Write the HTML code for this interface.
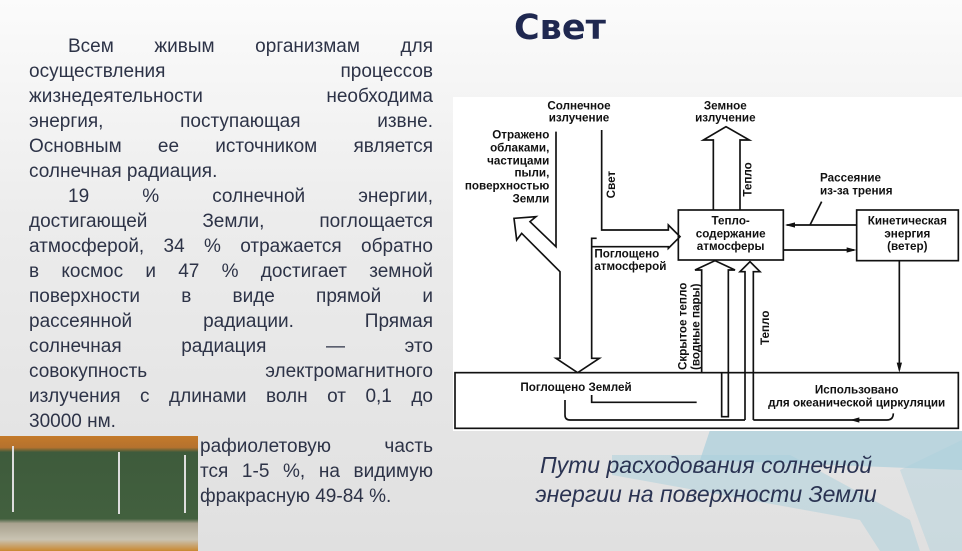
<!DOCTYPE html>
<html><head><meta charset="utf-8"><style>
body{margin:0;width:962px;height:551px;overflow:hidden;position:relative;background:linear-gradient(180deg,#fbfbfb 0%,#ececec 40%,#e0e0e0 100%);font-family:"Liberation Sans",sans-serif}
.l{position:absolute;left:29px;width:404px;font-size:19px;color:#2d3347;text-align:justify;text-align-last:justify;white-space:nowrap;height:24px;line-height:24px}
.n{text-align-last:left}
.t{font-family:"Liberation Sans",sans-serif;font-weight:bold;font-size:35px;fill:#111}
</style></head><body>
<svg style="position:absolute;left:0;top:0" width="962" height="551">
<polygon points="710,430 962,430 962,470 700,460" fill="#a9cfdc" opacity="0.7"/>
<polygon points="612,455 790,455 910,520 920,551 880,551 860,520 612,475" fill="#a9cfdc" opacity="0.5"/>
<polygon points="900,470 962,440 962,551 930,551" fill="#a9cfdc" opacity="0.4"/>
</svg>
<div style="position:absolute;left:514px;top:8px;font-family:'DejaVu Sans',sans-serif;font-weight:bold;font-size:35px;color:#1f2850">Свет</div>

<div class="l" style="top:35px;left:68px;width:365px">Всем живым организмам для</div>
<div class="l" style="top:60px">осуществления процессов</div>
<div class="l" style="top:85px">жизнедеятельности необходима</div>
<div class="l" style="top:110px">энергия, поступающая извне.</div>
<div class="l" style="top:135px">Основным ее источником является</div>
<div class="l n" style="top:160px">солнечная радиация.</div>
<div class="l" style="top:185px;left:68px;width:365px">19 % солнечной энергии,</div>
<div class="l" style="top:210px">достигающей Земли, поглощается</div>
<div class="l" style="top:235px">атмосферой, 34 % отражается обратно</div>
<div class="l" style="top:260px">в космос и 47 % достигает земной</div>
<div class="l" style="top:285px">поверхности в виде прямой и</div>
<div class="l" style="top:310px">рассеянной радиации. Прямая</div>
<div class="l" style="top:335px">солнечная радиация — это</div>
<div class="l" style="top:360px">совокупность электромагнитного</div>
<div class="l" style="top:385px">излучения с длинами волн от 0,1 до</div>
<div class="l n" style="top:410px">30000 нм.</div>
<div class="l" style="top:435px;left:200px;width:233px">рафиолетовую часть</div>
<div class="l" style="top:460px;left:200px;width:233px">тся 1-5 %, на видимую</div>
<div class="l n" style="top:485px;left:200px;width:233px">фракрасную 49-84 %.</div>

<div style="position:absolute;left:0;top:436px;width:198px;height:115px;background:linear-gradient(180deg,#c47a2a 0%,#b5722e 10%,#3e5b3c 14%,#42603e 72%,#a9a28f 76%,#c9c3b2 90%,#c98830 100%)"></div>
<div style="position:absolute;left:12px;top:446px;width:2px;height:66px;background:#ddd"></div>
<div style="position:absolute;left:118px;top:452px;width:2px;height:62px;background:#ddd"></div>
<div style="position:absolute;left:184px;top:455px;width:2px;height:58px;background:#ddd"></div>

<div style="position:absolute;left:453px;top:97px;width:509px;height:334px;background:#fff"></div>
<svg style="position:absolute;left:450px;top:90px" width="510" height="340" viewBox="0 0 1530 1020">
<g fill="none" stroke="#111" stroke-width="5">
<rect x="15" y="848" width="1510" height="167"/>
<rect x="685" y="360" width="315" height="150"/>
<rect x="1220" y="360" width="305" height="152"/>
<polyline points="318,125 318,470 240,395 258,380 192,385 200,450 215,430 330,545 330,805 318,805 383,848 448,805 425,805 425,445 440,445"/>
<polyline points="455,120 455,420 655,420 655,405 690,440 655,475 655,470 425,470"/>
<polyline points="790,360 790,150 760,150 828,110 898,150 870,150 870,360"/>
<polyline points="755,848 755,540 735,540 795,512 855,540 835,540 835,980 815,980 815,848"/>
<polyline points="885,990 885,545 870,545 900,515 930,545 910,545 910,990"/>
<line x1="1220" y1="405" x2="1010" y2="405"/>
<line x1="1000" y1="480" x2="1212" y2="480"/>
<line x1="1080" y1="405" x2="1115" y2="335"/>
<line x1="1348" y1="512" x2="1348" y2="840"/>
<path d="M345,930 L345,975 Q345,990 360,990 L885,990"/>
<polyline points="425,915 425,937 740,937"/>
<path d="M1330,970 Q1330,990 1310,990 L910,990"/>
</g>
<g fill="#111">
<polygon points="1005,405 1035,397 1035,413"/>
<polygon points="1220,480 1190,472 1190,488"/>
<polygon points="1348,848 1340,818 1356,818"/>
<polygon points="1200,990 1228,982 1228,998"/>
</g>
<g class="t" text-anchor="middle">
<text x="387" y="58">Солнечное</text><text x="387" y="95">излучение</text>
<text x="826" y="58">Земное</text><text x="826" y="95">излучение</text>
<text x="842" y="403">Тепло-</text><text x="842" y="442">содержание</text><text x="842" y="480">атмосферы</text>
<text x="1372" y="403">Кинетическая</text><text x="1372" y="442">энергия</text><text x="1372" y="480">(ветер)</text>
<text x="378" y="903">Поглощено Землей</text>
<text x="1220" y="910">Использовано</text><text x="1220" y="950">для океанической циркуляции</text>
</g>
<g class="t" text-anchor="end">
<text x="298" y="145">Отражено</text><text x="298" y="185">облаками,</text><text x="298" y="223">частицами</text><text x="298" y="260">пыли,</text><text x="298" y="298">поверхностью</text><text x="298" y="337">Земли</text>
</g>
<g class="t">
<text x="1110" y="275">Рассеяние</text><text x="1110" y="313">из-за трения</text>
<text x="433" y="502">Поглощено</text><text x="433" y="540">атмосферой</text>
<text transform="translate(495,325) rotate(-90)">Свет</text>
<text transform="translate(905,320) rotate(-90)">Тепло</text>
<text transform="translate(957,765) rotate(-90)">Тепло</text>
<text transform="translate(710,840) rotate(-90)">Скрытое тепло</text>
<text transform="translate(748,840) rotate(-90)">(водные пары)</text>
</g>
</svg>
<div style="position:absolute;left:480px;top:451px;width:452px;text-align:center;font-style:italic;font-size:23px;line-height:29px;color:#2a3352">Пути расходования солнечной<br>энергии на поверхности Земли</div>
</body></html>
